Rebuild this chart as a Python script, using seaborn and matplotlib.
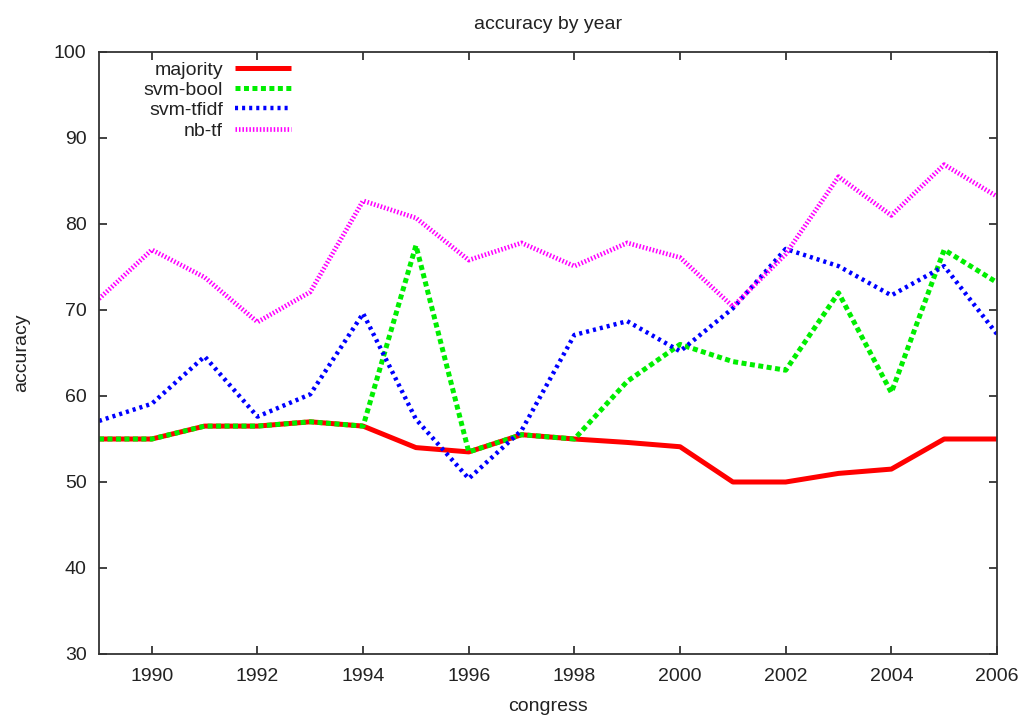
import numpy as np
import pandas as pd
import matplotlib
matplotlib.use("Agg")
import matplotlib.pyplot as plt
import seaborn as sns

years = list(range(1989, 2007))
majority = [55, 55, 56.5, 56.5, 57, 56.5, 54, 53.5, 55.5, 55, 54.6, 54.1, 50, 50, 51, 51.5, 55, 55]
svm_bool = [55, 55, 56.5, 56.5, 57, 56.5, 77.5, 53.5, 55.5, 55, 61.7, 66, 64, 63, 72, 60.4, 77, 73.2]
svm_tfidf = [57.1, 59.1, 64.6, 57.6, 60.2, 69.6, 57.3, 50.4, 56, 67.1, 68.7, 65.2, 70.2, 77.1, 75.1, 71.7, 75.1, 67.2]
nb_tf = [71.3, 77, 73.8, 68.6, 72.1, 82.7, 80.7, 75.8, 77.8, 75.1, 77.8, 76.1, 70.4, 76.5, 85.5, 81, 86.9, 83.2]

series_names = ["majority", "svm-bool", "svm-tfidf", "nb-tf"]
series_values = [majority, svm_bool, svm_tfidf, nb_tf]
colors = ["#ff0000", "#00ee00", "#0000ff", "#ff00ff"]
styles = ["-", (0, (3.6, 2.5)), (0, (2.2, 2.9)), (0, (1.1, 1.4))]
widths = [3.6, 3.6, 3.2, 3.4]

sns.set_style("ticks")
plt.rcParams["font.family"] = ["Liberation Sans", "DejaVu Sans"]
plt.rcParams["lines.scale_dashes"] = False

fig = plt.figure(figsize=(10.24, 7.19), dpi=100)
ax = fig.add_axes([99 / 1024, 1 - 654 / 719, (997 - 99) / 1024, (654 - 52) / 719])

for name, vals, c, ls, lw in zip(series_names, series_values, colors, styles, widths):
    df = pd.DataFrame({"year": years, "accuracy": vals})
    sns.lineplot(data=df, x="year", y="accuracy", ax=ax, color=c, linestyle=ls,
                 linewidth=lw, label=name, solid_capstyle="butt", dash_capstyle="butt")

ax.set_xlim(1989, 2006)
ax.set_ylim(30, 100)
ax.set_xticks(list(range(1990, 2007, 2)))
ax.set_yticks(list(range(30, 101, 10)))
ax.tick_params(direction="in", length=6, width=1.2, top=True, right=True,
               labelsize=14, colors="#222222", pad=9)
ax.tick_params(axis="x", pad=10)
for s in ax.spines.values():
    s.set_visible(True)
    s.set_linewidth(1.3)
    s.set_color("#333333")

ax.set_title("accuracy by year", fontsize=14, pad=16.5, color="#222222")
ax.set_xlabel("congress", fontsize=14, color="#222222", labelpad=9.5)
ax.set_ylabel("accuracy", fontsize=14, color="#222222", labelpad=17)

leg = ax.legend(loc="upper right", bbox_to_anchor=(291 / 1024, 1 - 61 / 719),
                bbox_transform=fig.transFigure, frameon=False, markerfirst=False,
                fontsize=14, handlelength=2.9, handletextpad=0.6, labelspacing=0.14,
                borderpad=0, borderaxespad=0)
for t in leg.get_texts():
    t.set_color("#222222")

fig.savefig("out.png", dpi=100)
